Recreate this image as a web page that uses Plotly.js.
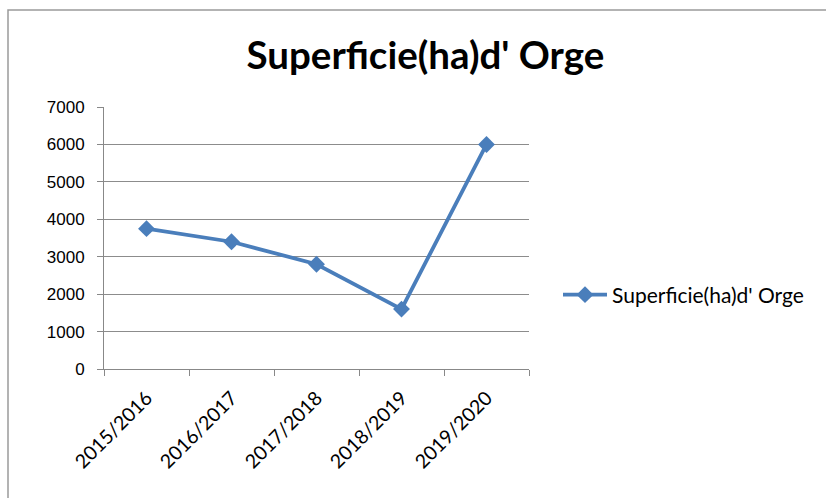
<!DOCTYPE html>
<html>
<head>
<meta charset="utf-8">
<script src="https://cdn.plot.ly/plotly-3.0.1.min.js"></script>
<style>
html,body{margin:0;padding:0;background:#fff;}
#chart{width:826px;height:498px;}
</style>
</head>
<body>
<div id="chart"></div>
<script>
const categories = ["2015/2016", "2016/2017", "2017/2018", "2018/2019", "2019/2020"];
const superficie = [3750, 3400, 2800, 1600, 6000];
const seriesName = "Superficie(ha)d' Orge";
const titleText = "Superficie(ha)d' Orge";

const W = 826, H = 498;
const L = 104, R = 297, T = 107, B = 129;
const pw = W - L - R, ph = H - T - B;
function px(x){ return (x - L) / pw; }
function py(y){ return (H - B - y) / ph; }

const trace = {
  type: 'scatter',
  mode: 'lines+markers',
  x: categories,
  y: superficie,
  name: seriesName,
  line: {color: '#4a7ebb', width: 3.8},
  marker: {symbol: 'diamond', size: 13, color: '#4a7ebb'},
  showlegend: true
};

const layout = {
  width: W, height: H,
  margin: {l: L, r: R, t: T, b: B, pad: 0},
  paper_bgcolor: '#ffffff',
  plot_bgcolor: '#ffffff',
  title: {
    text: '<b>' + titleText + '</b>',
    font: {family: 'Lato, "Open Sans", sans-serif', size: 38.5, color: '#000'},
    x: 0.515, xanchor: 'center', y: 1 - 56/H, yanchor: 'middle'
  },
  xaxis: {
    type: 'category',
    range: [-0.5, 4.5],
    tickson: 'boundaries',
    ticks: 'outside', ticklen: 6, tickcolor: '#888', tickwidth: 1,
    showline: true, linecolor: '#888', linewidth: 1,
    showgrid: false, zeroline: false,
    tickangle: -45,
    ticklabelstandoff: 9,
    tickfont: {family: 'Lato, "Open Sans", sans-serif', size: 19.5, color: '#000'},
    automargin: false, fixedrange: true
  },
  yaxis: {
    range: [0, 7000],
    dtick: 1000,
    tickformat: 'd',
    ticks: 'outside', ticklen: 6, tickcolor: '#888', tickwidth: 1,
    showline: true, linecolor: '#888', linewidth: 1,
    showgrid: true, gridcolor: '#8c8c8c', gridwidth: 1,
    zeroline: false,
    ticklabelstandoff: 9,
    tickfont: {family: '"Liberation Sans", Arial, sans-serif', size: 17, color: '#000'},
    automargin: false, fixedrange: true
  },
  legend: {
    x: px(558), xanchor: 'left',
    y: py(295), yanchor: 'middle',
    font: {family: 'Lato, "Open Sans", sans-serif', size: 21, color: '#000'},
    bgcolor: 'rgba(0,0,0,0)',
    itemwidth: 44
  },
  shapes: [{
    type: 'rect', xref: 'paper', yref: 'paper',
    x0: px(8), x1: px(830), y0: py(504), y1: py(10),
    line: {color: '#9a9a9a', width: 1.5}, fillcolor: 'rgba(0,0,0,0)', layer: 'below'
  }]
};

Plotly.newPlot('chart', [trace], layout, {displayModeBar: false, staticPlot: true});
</script>
</body>
</html>
